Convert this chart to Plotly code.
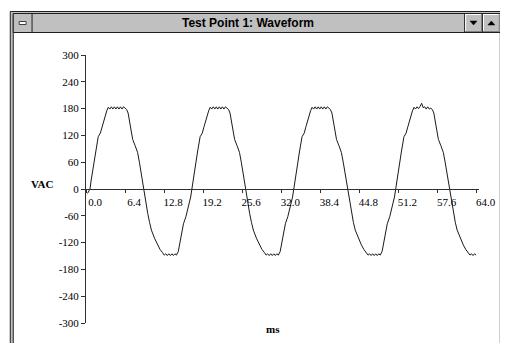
import plotly.graph_objects as go

# ---- data (ms, VAC) ----
t_ms = [0.25, 0.65, 0.85, 1.2, 1.6, 2.0, 2.35, 2.65, 3.05, 3.4, 3.65, 3.9, 4.15, 4.4, 4.65, 4.9, 5.15, 5.4, 5.65, 5.9, 6.15, 6.4, 6.65, 6.9, 7.15, 7.4, 7.65, 8.05, 8.45, 8.75, 9.1, 9.42,
        9.77, 10.12, 10.42, 10.72, 11.22, 11.72, 12.12, 12.52, 12.82, 13.07, 13.32, 13.57, 13.82, 14.07, 14.32, 14.57, 14.82, 15.12, 15.42, 15.62, 15.97, 16.37, 16.77, 17.15, 17.35,
        17.55, 17.9, 18.3, 18.7, 19.05, 19.35, 19.75, 20.1, 20.35, 20.6, 20.85, 21.1, 21.35, 21.6, 21.85, 22.1, 22.35, 22.6, 22.85, 23.1, 23.35, 23.6, 23.85, 24.1, 24.35, 24.75, 25.15, 25.45, 25.8, 26.12,
        26.47, 26.82, 27.12, 27.42, 27.92, 28.42, 28.82, 29.22, 29.52, 29.77, 30.02, 30.27, 30.52, 30.77, 31.02, 31.27, 31.52, 31.82, 32.12, 32.32, 32.67, 33.07, 33.47, 33.85, 34.05,
        34.25, 34.6, 35.0, 35.4, 35.75, 36.05, 36.45, 36.8, 37.05, 37.3, 37.55, 37.8, 38.05, 38.3, 38.55, 38.8, 39.05, 39.3, 39.55, 39.8, 40.05, 40.3, 40.55, 40.8, 41.05, 41.45, 41.85, 42.15, 42.5, 42.82,
        43.17, 43.52, 43.82, 44.12, 44.62, 45.12, 45.52, 45.92, 46.22, 46.47, 46.72, 46.97, 47.22, 47.47, 47.72, 47.97, 48.22, 48.52, 48.82, 49.02, 49.37, 49.77, 50.17, 50.55, 50.75,
        50.95, 51.3, 51.7, 52.1, 52.45, 52.75, 53.15, 53.5, 53.75, 54.0, 54.25, 54.5, 54.75, 55.0, 55.25, 55.5, 55.75, 56.0, 56.25, 56.5, 56.75, 57.0, 57.25, 57.5, 57.75, 58.15, 58.55, 58.85, 59.2, 59.52,
        59.87, 60.22, 60.52, 60.82, 61.32, 61.82, 62.22, 62.62, 62.92, 63.17, 63.42, 63.67, 63.92]
vac = [-10, 0, 20, 47, 85, 117, 125, 140, 160, 175, 183, 179, 184, 179, 184, 179, 184, 179, 184, 179, 184, 181, 178, 170, 150, 128, 111, 97, 82, 60, 30, 0,
       -28, -55, -75, -92, -110, -125, -135, -142, -148, -145, -149, -145, -149, -145, -149, -145, -148, -140, -118, -95, -78, -62, -42, -18, 0,
       20, 47, 85, 117, 125, 140, 160, 175, 183, 179, 184, 179, 184, 179, 184, 179, 184, 179, 184, 181, 178, 170, 150, 128, 111, 97, 82, 60, 30, 0,
       -28, -55, -75, -92, -110, -125, -135, -142, -148, -145, -149, -145, -149, -145, -149, -145, -148, -140, -118, -95, -78, -62, -42, -18, 0,
       20, 47, 85, 117, 125, 140, 160, 175, 183, 179, 184, 179, 184, 179, 184, 179, 184, 179, 184, 181, 178, 170, 150, 128, 111, 97, 82, 60, 30, 0,
       -28, -55, -75, -92, -110, -125, -135, -142, -148, -145, -149, -145, -149, -145, -149, -145, -148, -140, -118, -95, -78, -62, -42, -18, 0,
       20, 47, 85, 117, 125, 140, 160, 175, 183, 179, 184, 180, 185, 192, 182, 184, 179, 184, 179, 181, 178, 170, 150, 128, 111, 97, 82, 60, 30, 0,
       -28, -55, -75, -92, -110, -125, -135, -142, -148, -145, -149, -145, -148]

x_tickvals = [0.0, 6.4, 12.8, 19.2, 25.6, 32.0, 38.4, 44.8, 51.2, 57.6, 64.0]
x_ticktext = ["0.0", "6.4", "12.8", "19.2", "25.6", "32.0", "38.4", "44.8", "51.2", "57.6", "64.0"]
y_tickvals = [300, 240, 180, 120, 60, 0, -60, -120, -180, -240, -300]
y_ticktext = ["300", "240", "180", "120", "60", "0", "-60", "-120", "-180", "-240", "-300"]

title_text = "Test Point 1: Waveform"
y_title = "VAC"
x_title = "ms"

# ---- layout geometry (page pixels; the page body has an 8px margin) ----
PAGE_W, PAGE_H = 508, 343
OFF = 8
W, H = PAGE_W - OFF, PAGE_H - OFF
L, R, T, B = 86, 483, 55, 323   # plot area in page pixels


def px(x):
    return (x - L) / (R - L)


def py(y):
    return (B - y) / (B - T)


fig = go.Figure()
fig.add_trace(go.Scatter(x=t_ms, y=vac, mode="lines",
                         line=dict(color="#1a1a1a", width=1), hoverinfo="skip"))

serif = "Liberation Serif, Times New Roman, serif"
sans = "Liberation Sans, Arial, sans-serif"

shapes = []


def rect(x0, y0, x1, y1, fill, line="#202020", lw=1):
    shapes.append(dict(type="rect", xref="paper", yref="paper", layer="below",
                       x0=px(x0), x1=px(x1), y0=py(y0), y1=py(y1),
                       fillcolor=fill, line=dict(color=line, width=lw)))


def hline(x0, x1, y, color, lw=1):
    shapes.append(dict(type="line", xref="paper", yref="paper", layer="below",
                       x0=px(x0), x1=px(x1), y0=py(y), y1=py(y), line=dict(color=color, width=lw)))


def vline(x, y0, y1, color, lw=1):
    shapes.append(dict(type="line", xref="paper", yref="paper", layer="below",
                       x0=px(x), x1=px(x), y0=py(y0), y1=py(y1), line=dict(color=color, width=lw)))


# window frame
rect(9.5, 11.5, 520, 360, "#c0c0c0", "#202020")
rect(12.5, 13.5, 504.5, 360, "#ffffff", "#202020")
# title bar
rect(12.5, 13.5, 504.5, 32.5, "#c0c0c0", "#202020")
vline(31.5, 13.5, 32.5, "#202020")
vline(468.5, 13.5, 32.5, "#202020")
vline(486.5, 13.5, 32.5, "#202020")
# button bevels
hline(469, 486, 14.5, "#ffffff")
vline(469.5, 14, 32, "#ffffff")
hline(469, 486, 31.5, "#808080")
vline(485.5, 14, 32, "#808080")
hline(487, 504, 14.5, "#ffffff")
vline(487.5, 14, 32, "#ffffff")
hline(487, 504, 31.5, "#808080")
vline(503.5, 14, 32, "#808080")
# minimize icon
rect(18.5, 21.5, 25.5, 24.5, "#ffffff", "#404040")
# triangles
shapes.append(dict(type="path", xref="paper", yref="paper", layer="below",
                   path=f"M {px(474)},{py(21)} L {px(481)},{py(21)} L {px(477.5)},{py(25)} Z",
                   fillcolor="#000000", line=dict(color="#000000", width=0.5)))
shapes.append(dict(type="path", xref="paper", yref="paper", layer="below",
                   path=f"M {px(492)},{py(25)} L {px(499)},{py(25)} L {px(495.5)},{py(21)} Z",
                   fillcolor="#000000", line=dict(color="#000000", width=0.5)))

annotations = [
    dict(text=f"<b>{title_text}</b>", xref="paper", yref="paper", x=px(250), y=py(23),
         xanchor="center", yanchor="middle", showarrow=False,
         font=dict(family=sans, size=12, color="#000000")),
    dict(text=f"<b>{y_title}</b>", xref="paper", yref="paper", x=px(28), y=py(184),
         xanchor="left", yanchor="middle", showarrow=False,
         font=dict(family=serif, size=11, color="#000000")),
    dict(text=f"<b>{x_title}</b>", xref="paper", yref="paper", x=px(275), y=py(329),
         xanchor="center", yanchor="middle", showarrow=False,
         font=dict(family=serif, size=11, color="#000000")),
]

fig.update_layout(
    width=W, height=H, autosize=False,
    margin=dict(l=L - OFF, r=PAGE_W - R, t=T - OFF, b=PAGE_H - B, pad=0),
    paper_bgcolor="#ffffff", plot_bgcolor="rgba(0,0,0,0)",
    showlegend=False, shapes=shapes, annotations=annotations,
    xaxis=dict(range=[0, 64.4], tickmode="array", tickvals=x_tickvals, ticktext=x_ticktext,
               anchor="free", position=0.5, showline=True, linecolor="#303030", linewidth=1,
               ticks="outside", ticklen=3, tickcolor="#303030", showgrid=False, zeroline=False,
               tickfont=dict(family=serif, size=11, color="#000000"), ticklabelshift=9,
               ticklabelstandoff=0, fixedrange=True),
    yaxis=dict(range=[-300, 300], tickmode="array", tickvals=y_tickvals, ticktext=y_ticktext,
               showline=True, linecolor="#303030", linewidth=1, ticks="outside", ticklen=4,
               tickcolor="#303030", showgrid=False, zeroline=False,
               tickfont=dict(family=serif, size=11, color="#000000"), fixedrange=True),
)

fig.write_html("out.html")
